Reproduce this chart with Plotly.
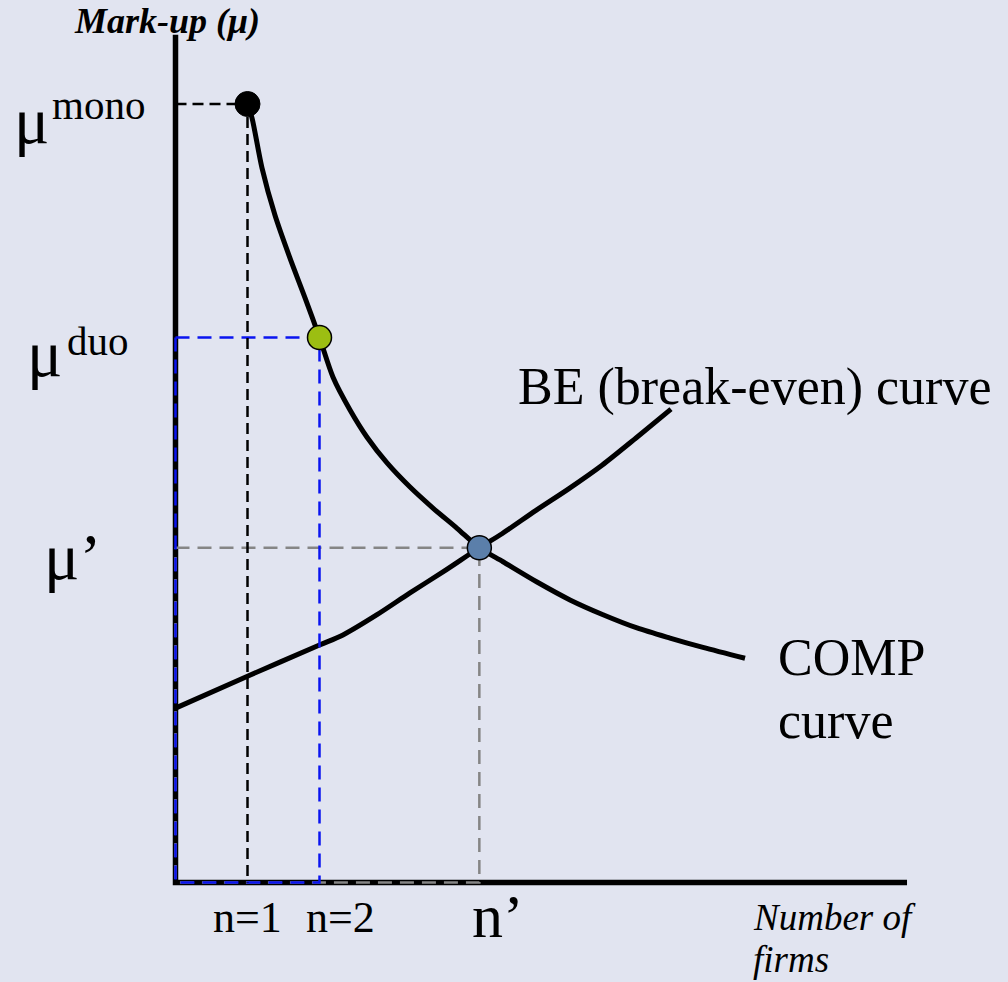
import plotly.graph_objects as go

# ---------------- data (x = number of firms, y = mark-up) ----------------
comp_n = [1.0, 1.063, 1.201, 1.382, 1.590, 1.799, 2.0, 2.188, 2.424, 2.660,
          2.938, 3.257, 3.576, 3.910, 4.22, 4.549, 5.021, 5.479, 5.938,
          6.410, 6.868, 7.326, 7.910]
comp_mu = [1.0, 0.982, 0.918, 0.857, 0.802, 0.751, 0.70, 0.649, 0.607, 0.572,
           0.539, 0.508, 0.481, 0.455, 0.43, 0.412, 0.386, 0.363, 0.344,
           0.327, 0.314, 0.302, 0.288]

be_n = [0.0, 1.0, 2.0, 2.326, 2.799, 3.257, 3.715, 4.22, 4.535, 5.007,
        5.465, 5.924, 6.396, 6.882]
be_mu = [0.224, 0.265, 0.305, 0.318, 0.344, 0.372, 0.399, 0.43, 0.448, 0.478,
         0.506, 0.536, 0.571, 0.608]

n_mono, mu_mono = 1.0, 1.0
n_duo, mu_duo = 2.0, 0.70
n_eq, mu_eq = 4.22, 0.43

axis_x_end = 10.16
axis_y_end = 1.089

BG = "#E1E4F0"
SERIF = "Liberation Serif, Times New Roman, serif"

fig = go.Figure()

# axes
fig.add_trace(go.Scatter(x=[0, 0, axis_x_end], y=[axis_y_end, 0, 0], mode="lines",
                         line=dict(color="black", width=5.5), hoverinfo="skip"))

# curves
fig.add_trace(go.Scatter(x=be_n, y=be_mu, mode="lines",
                         line=dict(color="black", width=5, shape="spline", smoothing=0.8),
                         hoverinfo="skip"))
fig.add_trace(go.Scatter(x=comp_n, y=comp_mu, mode="lines",
                         line=dict(color="black", width=5, shape="spline", smoothing=0.8),
                         hoverinfo="skip"))

# dashed guides
fig.add_trace(go.Scatter(x=[0, n_eq, n_eq, 0, 0], y=[mu_eq, mu_eq, 0, 0, mu_eq], mode="lines",
                         line=dict(color="#858585", width=2.5, dash="14px,8px"), hoverinfo="skip"))
fig.add_trace(go.Scatter(x=[0, n_duo, n_duo, 0, 0], y=[mu_duo, mu_duo, 0, 0, mu_duo], mode="lines",
                         line=dict(color="#0A14F0", width=2.5, dash="14px,8px"), hoverinfo="skip"))
fig.add_trace(go.Scatter(x=[0, n_mono, n_mono], y=[mu_mono, mu_mono, 0], mode="lines",
                         line=dict(color="black", width=2.5, dash="11px,6px"), hoverinfo="skip"))

# points
fig.add_trace(go.Scatter(x=[n_mono], y=[mu_mono], mode="markers",
                         marker=dict(size=25, color="black", line=dict(color="black", width=1)),
                         hoverinfo="skip"))
fig.add_trace(go.Scatter(x=[n_duo], y=[mu_duo], mode="markers",
                         marker=dict(size=24, color="#9CBE12", line=dict(color="black", width=1.5)),
                         hoverinfo="skip"))
fig.add_trace(go.Scatter(x=[n_eq], y=[mu_eq], mode="markers",
                         marker=dict(size=24, color="#5B7FAA", line=dict(color="black", width=1.5)),
                         hoverinfo="skip"))

W, H = 1008, 982


def ann(text, px, py_base, size, xanchor="left", italic=False, bold=False):
    yc = py_base - 0.34 * size
    t = text
    if bold:
        t = "<b>" + t + "</b>"
    if italic:
        t = "<i>" + t + "</i>"
    fig.add_annotation(x=px / W, y=1 - yc / H, xref="paper", yref="paper",
                       text=t, showarrow=False, xanchor=xanchor, yanchor="middle",
                       font=dict(family=SERIF, size=size, color="black"))


ann("Mark-up (μ)", 167, 33, 36, xanchor="center", italic=True, bold=True)
ann("μ", 12, 143, 66)
ann("mono", 50, 119, 41)
ann("μ", 25, 376, 66)
ann("duo", 65, 355, 41)
ann("μ’", 42, 579, 66)
ann("n=1", 247, 932, 44, xanchor="center")
ann("n=2", 340, 932, 44, xanchor="center")
ann("n’", 470, 937, 62)
ann("BE (break-even) curve", 516, 405, 52)
ann("COMP", 776, 675, 52)
ann("curve", 776, 738, 52)
ann("Number of", 751, 930, 37, italic=True)
ann("firms", 751, 972, 37, italic=True)

x0, xu = 175.5, 72.0
y0, yu = 882.5, 778.5
fig.update_layout(
    width=W, height=H,
    margin=dict(l=0, r=0, t=0, b=0),
    paper_bgcolor=BG, plot_bgcolor=BG,
    showlegend=False,
    xaxis=dict(visible=False, range=[-x0 / xu, (W - x0) / xu], fixedrange=True),
    yaxis=dict(visible=False, range=[(y0 - H) / yu, y0 / yu], fixedrange=True),
)

fig.write_html("out.html", config={"displayModeBar": False},
               post_script="document.body.style.margin='0';document.body.style.overflow='hidden';")
